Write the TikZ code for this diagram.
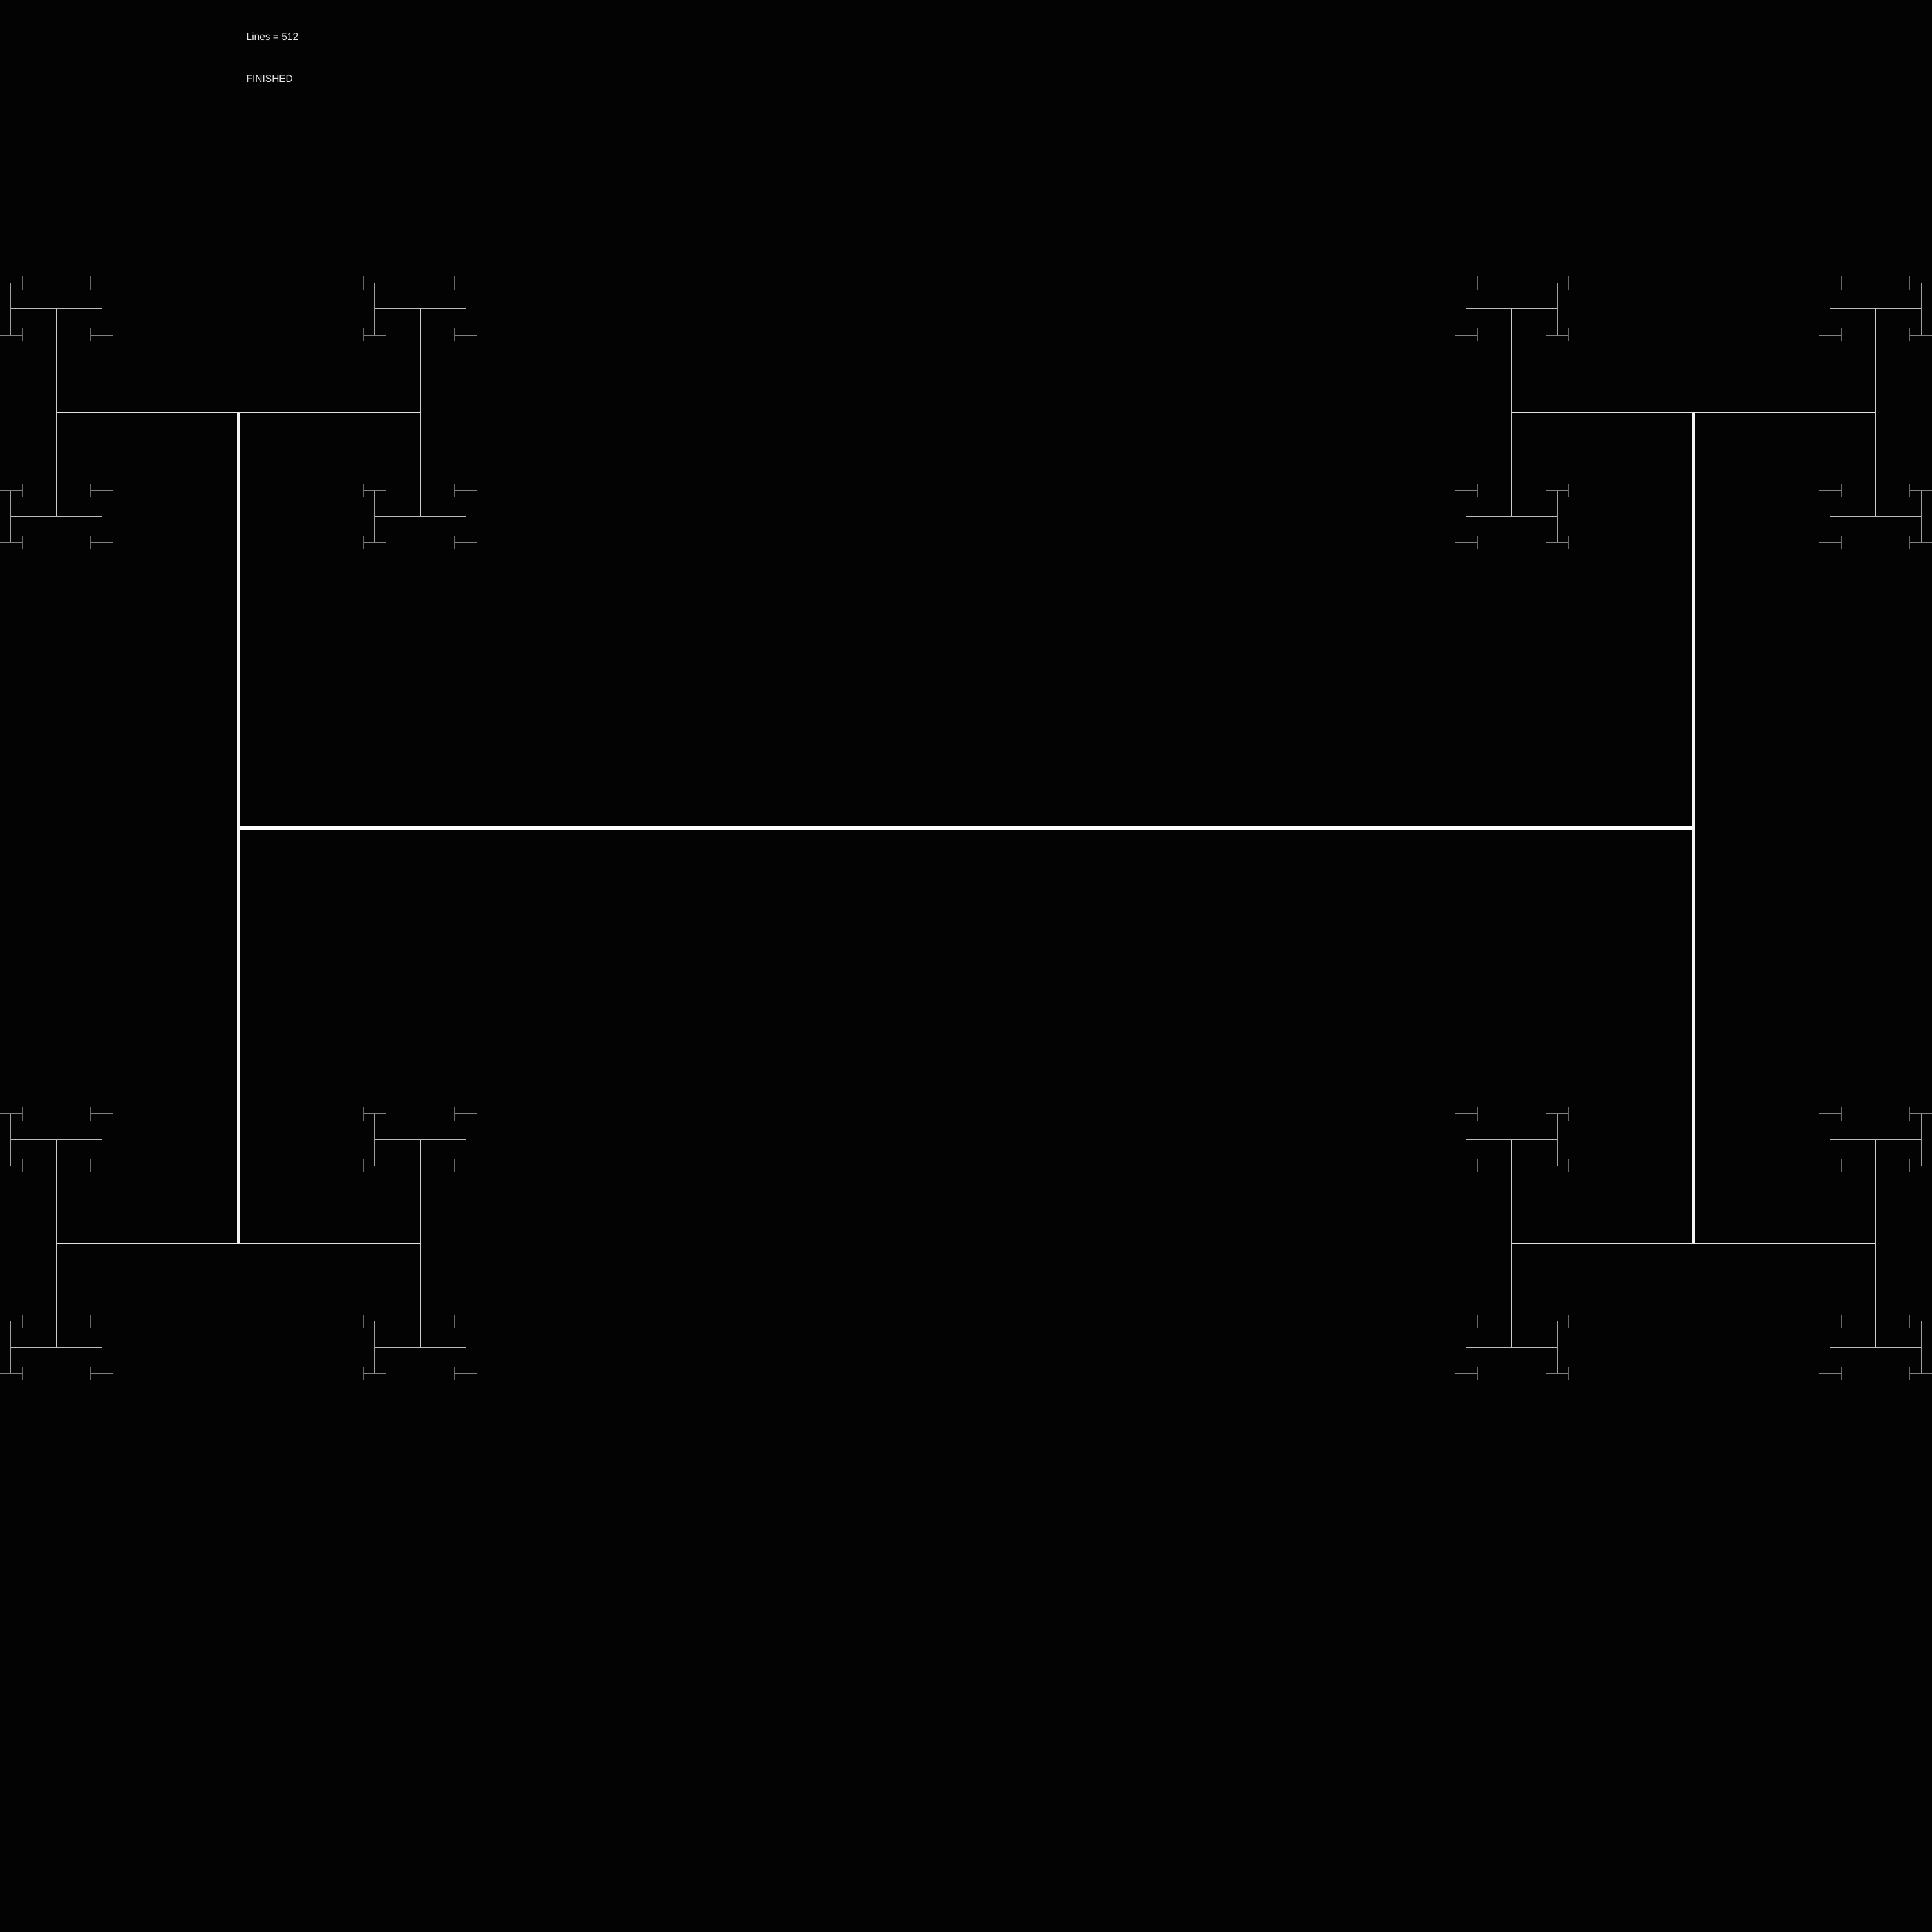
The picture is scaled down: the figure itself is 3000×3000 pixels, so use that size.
\documentclass[tikz,border=0pt]{standalone}
\usepackage{fontspec}
\setmainfont{Liberation Sans}
\usetikzlibrary{positioning}
\definecolor{Canvas}{HTML}{030303}
\definecolor{InfoText}{HTML}{E6E6E6}
\definecolor{Shade0}{HTML}{FFFFFF}
\definecolor{Shade1}{HTML}{F4F4F4}
\definecolor{Shade2}{HTML}{E2E2E2}
\definecolor{Shade3}{HTML}{CCCCCC}
\definecolor{Shade4}{HTML}{BBBBBB}
\definecolor{Shade5}{HTML}{A0A0A0}
\definecolor{Shade6}{HTML}{808080}
\definecolor{Shade7}{HTML}{666666}
\tikzset{
  lvl0/.style={draw=Shade0, line width=1.7pt},
  lvl1/.style={draw=Shade1, line width=1.15pt},
  lvl2/.style={draw=Shade2, line width=0.6pt},
  lvl3/.style={draw=Shade3, line width=0.4pt},
  lvl4/.style={draw=Shade4, line width=0.32pt},
  lvl5/.style={draw=Shade5, line width=0.3pt},
  lvl6/.style={draw=Shade6, line width=0.3pt},
  lvl7/.style={draw=Shade7, line width=0.3pt},
  infotext/.style={text=InfoText, anchor=base west, inner sep=0pt, font=\fontsize{4.4pt}{5pt}\selectfont}
}
% horizontal bar: x, y, half width, half height, level
\newcommand{\hseg}[5]{%
  \draw[lvl#5] (#1-#3,#2) -- (#1+#3,#2);
  \ifnum#5<7
    \foreach \s in {-1,1}{%
      \pgfmathsetmacro\ex{#1+(\s)*#3}%
      \pgfmathtruncatemacro\nl{#5+1}%
      \edef\tmp{\noexpand\vseg{\ex}{#2}{#3}{#4}{\nl}}\tmp
    }%
  \fi}
% vertical bar: x, y, half width, half height, level
\newcommand{\vseg}[5]{%
  \draw[lvl#5] (#1,#2-#4) -- (#1,#2+#4);
  \ifnum#5<7
    \foreach \s in {-1,1}{%
      \pgfmathsetmacro\ey{#2+(\s)*#4}%
      \pgfmathtruncatemacro\nl{#5+1}%
      \pgfmathsetmacro\nx{#3/4}%
      \pgfmathsetmacro\ny{#4/4}%
      \edef\tmp{\noexpand\hseg{#1}{\ey}{\nx}{\ny}{\nl}}\tmp
    }%
  \fi}
\begin{document}
\begin{tikzpicture}[x=0.01cm, y=-0.01cm]
    \fill[Canvas] (0,0) rectangle (3000,3000);
    \useasboundingbox (0,0) rectangle (3000,3000);
    \node[infotext] (count) at (382,63) {Lines = 512};
    \node[infotext] (status) at (382,128) {FINISHED};

    \hseg{1500}{1286}{1130}{645}{0}
  \end{tikzpicture}
\end{document}
